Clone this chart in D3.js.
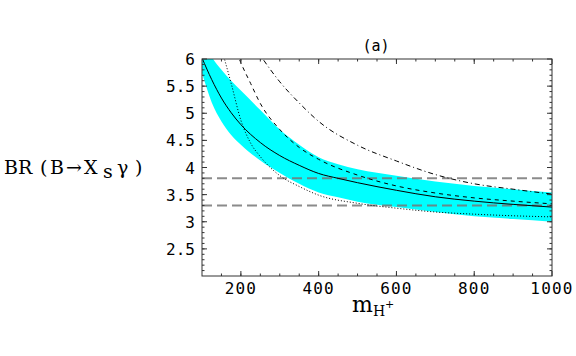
<!DOCTYPE html>
<html>
<head>
<meta charset="utf-8">
<script src="https://cdn.jsdelivr.net/npm/d3@7"></script>
<style>
  body { margin: 0; background: #fff; }
  svg { display: block; }
  .tick-label { font-family: "DejaVu Sans Mono", monospace; font-size: 16px; }
  .ylabel { font-family: "DejaVu Serif", serif; font-size: 19px; }
</style>
</head>
<body>
<div id="chart"></div>
<script>
//chart size and plot frame
var svgWidth = 576;
var svgHeight = 356;
var margin = { top: 59, right: 24, bottom: 80, left: 202 };
var width = 552 - margin.left;
var height = 276 - margin.top;

//charged Higgs masses where the curves were read
var massCentral = [100, 125, 150, 175, 200, 250, 300, 350, 400, 450, 500, 600, 700, 800, 900, 1000];
//band edges and central curve
var bandUpper = [6.4, 6.04, 5.8, 5.6, 5.42, 5.06, 4.7, 4.42, 4.19, 4.06, 3.97, 3.85, 3.74, 3.66, 3.6, 3.54];
var bandLower = [5.74, 5.2, 4.85, 4.6, 4.42, 4.13, 3.9, 3.7, 3.54, 3.45, 3.37, 3.27, 3.18, 3.1, 3.05, 3.0];
var central = [6.02, 5.62, 5.28, 5.01, 4.79, 4.46, 4.22, 4.04, 3.89, 3.8, 3.72, 3.58, 3.46, 3.38, 3.32, 3.27];

//dotted curve
var massDotted = [150, 175, 200, 225, 250, 300, 350, 400, 500, 600, 700, 800, 900, 1000];
var dotted = [6.2, 5.55, 4.87, 4.45, 4.2, 3.85, 3.65, 3.49, 3.34, 3.25, 3.18, 3.14, 3.11, 3.09];

//dashed curve
var massDashed = [175, 200, 225, 250, 300, 350, 400, 500, 600, 700, 800, 900, 1000];
var dashed = [6.4, 5.93, 5.55, 5.18, 4.7, 4.37, 4.15, 3.86, 3.66, 3.53, 3.44, 3.38, 3.33];

//dash-dot curve
var massDashDot = [225, 250, 300, 350, 400, 500, 600, 700, 800, 900, 1000];
var dashDot = [6.35, 6.07, 5.58, 5.19, 4.85, 4.41, 4.12, 3.87, 3.7, 3.6, 3.51];

//experimental limits
var limits = [3.8, 3.3];

var xTicks = [200, 400, 600, 800, 1000];
var yTicks = [2.5, 3, 3.5, 4, 4.5, 5, 5.5, 6];

var svg = d3.select("#chart")
    .append("svg")
    .attr("width", svgWidth)
    .attr("height", svgHeight);

var chartGroup = svg.append("g")
    .attr("transform", `translate(${margin.left}, ${margin.top})`);

var xScale = d3.scaleLinear().domain([100, 1000]).range([0, width]);
var yScale = d3.scaleLinear().domain([2, 6]).range([height, 0]);

chartGroup.append("clipPath")
    .attr("id", "plotClip")
    .append("rect")
    .attr("width", width)
    .attr("height", height);

var plot = chartGroup.append("g").attr("clip-path", "url(#plotClip)");

//cyan band
var band = d3.area()
    .x((d, i) => xScale(massCentral[i]))
    .y0((d, i) => yScale(bandLower[i]))
    .y1((d, i) => yScale(bandUpper[i]))
    .curve(d3.curveMonotoneX);
plot.append("path")
    .datum(massCentral)
    .attr("d", band)
    .attr("fill", "#00ffff");

//horizontal dashed limits
plot.selectAll(".limit")
    .data(limits)
    .enter()
    .append("line")
    .attr("class", "limit")
    .attr("x1", xScale(100))
    .attr("x2", xScale(1000))
    .attr("y1", d => yScale(d))
    .attr("y2", d => yScale(d))
    .attr("stroke", "#777")
    .attr("stroke-opacity", 0.85)
    .attr("stroke-width", 2)
    .attr("stroke-dasharray", "10,5");

function drawCurve(xs, ys, dash) {
    var line = d3.line()
        .x((d, i) => xScale(xs[i]))
        .y((d, i) => yScale(ys[i]))
        .curve(d3.curveMonotoneX);
    plot.append("path")
        .datum(xs)
        .attr("d", line)
        .attr("fill", "none")
        .attr("stroke", "#000")
        .attr("stroke-width", 1)
        .attr("stroke-dasharray", dash);
}

drawCurve(massCentral, central, null);
drawCurve(massDotted, dotted, "1,2");
drawCurve(massDashed, dashed, "4,4");
drawCurve(massDashDot, dashDot, "5,3,1,3");

//frame
chartGroup.append("rect")
    .attr("width", width)
    .attr("height", height)
    .attr("fill", "none")
    .attr("stroke", "#333")
    .attr("stroke-width", 1);

//ticks on all sides, pointing inwards
var xMinor = d3.range(150, 1000, 50);
var yMinor = d3.range(2.1, 6, 0.1);

function xTickMarks(values, len) {
    values.forEach(v => {
        var x = xScale(v);
        chartGroup.append("line").attr("x1", x).attr("x2", x)
            .attr("y1", height).attr("y2", height - len).attr("stroke", "#333");
        chartGroup.append("line").attr("x1", x).attr("x2", x)
            .attr("y1", 0).attr("y2", len).attr("stroke", "#333");
    });
}
function yTickMarks(values, len) {
    values.forEach(v => {
        var y = yScale(v);
        chartGroup.append("line").attr("x1", 0).attr("x2", len)
            .attr("y1", y).attr("y2", y).attr("stroke", "#333");
        chartGroup.append("line").attr("x1", width).attr("x2", width - len)
            .attr("y1", y).attr("y2", y).attr("stroke", "#333");
    });
}
xTickMarks(xMinor, 2.5);
xTickMarks(xTicks, 5);
yTickMarks(yMinor, 2.5);
yTickMarks(yTicks, 5);

//tick labels
chartGroup.selectAll(".xlab")
    .data(xTicks)
    .enter()
    .append("text")
    .attr("class", "tick-label")
    .attr("x", d => xScale(d))
    .attr("y", height + 18)
    .attr("text-anchor", "middle")
    .attr("letter-spacing", "1.2px")
    .text(d => d);

chartGroup.selectAll(".ylab")
    .data(yTicks)
    .enter()
    .append("text")
    .attr("class", "tick-label")
    .attr("x", -7)
    .attr("y", d => yScale(d) + 6)
    .attr("text-anchor", "end")
    .text(d => d);

//title
svg.append("text")
    .attr("x", 376)
    .attr("y", 51)
    .attr("text-anchor", "middle")
    .attr("font-family", "DejaVu Sans Mono, monospace")
    .attr("font-size", 15)
    .text("(a)");

//y axis label, pieces spaced out like the original
var yLabelParts = [
    { t: "BR", x: 4, dy: 0 },
    { t: "(", x: 40, dy: 0 },
    { t: "B", x: 50, dy: 0 },
    { t: "\u2192", x: 66, dy: 0 },
    { t: "X", x: 84, dy: 0 },
    { t: "s", x: 103, dy: 4 },
    { t: "\u03b3", x: 117, dy: 0 },
    { t: ")", x: 135, dy: 0 }
];
svg.selectAll(".ylabel")
    .data(yLabelParts)
    .enter()
    .append("text")
    .attr("class", "ylabel")
    .attr("x", d => d.x)
    .attr("y", d => 174 + d.dy)
    .attr("font-size", d => d.t === "s" ? 14 : 19)
    .text(d => d.t);

//x axis label
var xLabel = svg.append("text")
    .attr("x", 352)
    .attr("y", 312)
    .attr("font-family", "DejaVu Serif, serif")
    .attr("font-size", 22);
xLabel.append("tspan").text("m");
xLabel.append("tspan").attr("dy", 4).attr("font-size", 14).text("H");
xLabel.append("tspan").attr("dy", -8).attr("font-size", 11).text("+");
</script>
</body>
</html>
